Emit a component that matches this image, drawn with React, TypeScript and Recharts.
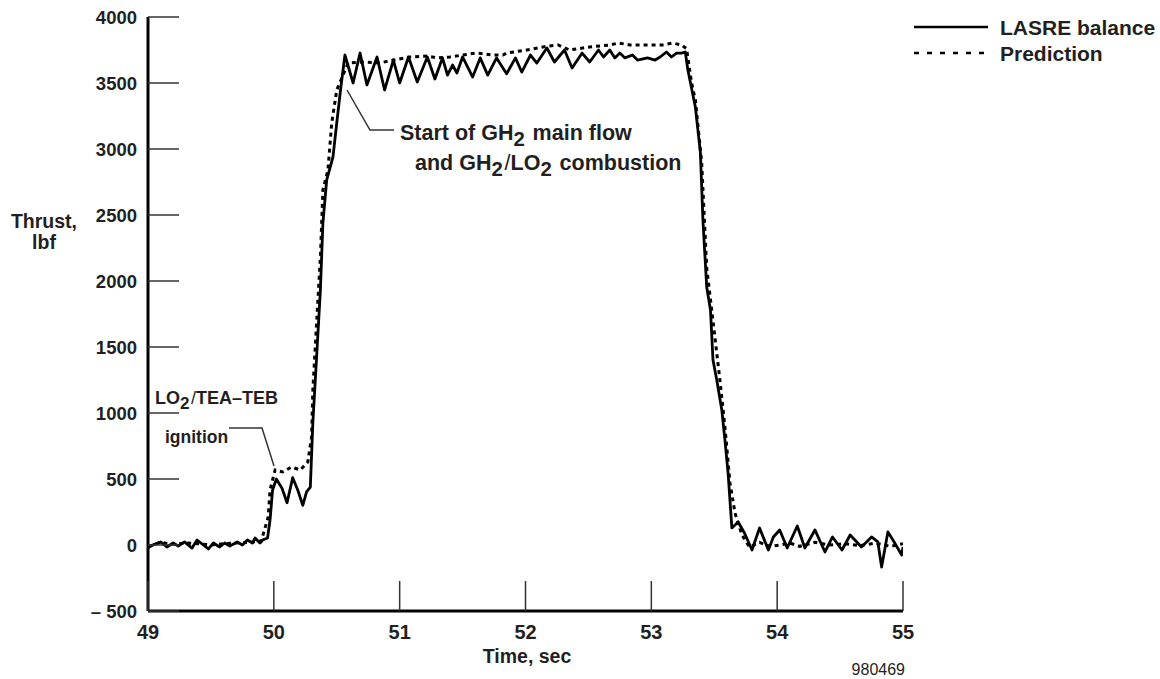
import React from 'react';
import { LineChart, Line, XAxis, YAxis } from 'recharts';

// LASRE balance (measured thrust), time in sec / thrust in lbf
const balanceTime = [
  49.0, 49.05, 49.1, 49.15, 49.2, 49.24, 49.29, 49.35, 49.39, 49.44, 49.48, 49.52, 49.57, 49.61,
  49.65, 49.71, 49.75, 49.79, 49.83, 49.85, 49.89, 49.91, 49.95, 49.97, 49.99, 50.02, 50.065,
  50.105, 50.15, 50.19, 50.23, 50.26, 50.29, 50.31, 50.34, 50.37, 50.39, 50.42, 50.47, 50.5,
  50.53, 50.565, 50.63, 50.685, 50.74, 50.82, 50.88, 50.95, 51.0, 51.07, 51.14, 51.22, 51.28,
  51.34, 51.38, 51.42, 51.455, 51.5, 51.58, 51.64, 51.7, 51.77, 51.85, 51.92, 51.97, 52.04,
  52.09, 52.17, 52.23, 52.31, 52.37, 52.45, 52.51, 52.58, 52.62, 52.67, 52.71, 52.75, 52.79,
  52.85, 52.89, 52.97, 53.03, 53.07, 53.12, 53.16, 53.2, 53.24, 53.27, 53.29, 53.35, 53.39,
  53.41, 53.44, 53.47, 53.49, 53.52, 53.56, 53.585, 53.61, 53.64, 53.69, 53.74, 53.8, 53.86,
  53.93, 53.97, 54.02, 54.08, 54.16, 54.22, 54.3, 54.38, 54.44, 54.515, 54.58, 54.67, 54.75,
  54.8, 54.83, 54.88, 54.92, 54.99, 55.0,
];
const balanceThrust = [
  -20, 5, 23, -15, 15, -8, 23, -23, 38, 0, -30, 15, -15, 15,
  -8, 23, 0, 38, 15, 53, 15, 38, 53, 189, 417, 500, 430,
  320, 510, 417, 300, 402, 439, 924, 1424, 1932, 2439, 2765, 2940, 3197,
  3447, 3712, 3500, 3727, 3485, 3697, 3447, 3674, 3500, 3697, 3508, 3697, 3530,
  3690, 3560, 3636, 3576, 3697, 3545, 3690, 3560, 3690, 3570, 3690, 3583, 3712,
  3651, 3765, 3659, 3750, 3614, 3727, 3659, 3750, 3697, 3750, 3690, 3727, 3690,
  3712, 3674, 3690, 3674, 3697, 3735, 3697, 3727, 3727, 3735, 3600, 3318, 2970,
  2462, 1955, 1780, 1401, 1250, 1023, 795, 545, 129, 174, 91, -38, 129,
  -38, 61, 114, -23, 144, -23, 114, -53, 61, -38, 76, -15, 61,
  23, -167, 99, 38, -76, -15,
];

// Prediction
const predictionTime = [
  49.0, 49.1, 49.2, 49.3, 49.4, 49.5, 49.6, 49.7, 49.8, 49.9, 49.955, 49.97, 50.01, 50.07,
  50.14, 50.21, 50.27, 50.3, 50.31, 50.34, 50.37, 50.39, 50.43, 50.46, 50.5, 50.59, 50.72,
  50.84, 50.95, 51.08, 51.22, 51.3, 51.4, 51.5, 51.61, 51.74, 51.82, 51.85, 52.01, 52.18,
  52.26, 52.35, 52.51, 52.67, 52.74, 52.83, 52.93, 53.01, 53.09, 53.17, 53.24, 53.28, 53.32,
  53.35, 53.4, 53.44, 53.48, 53.545, 53.585, 53.625, 53.665, 53.72, 53.78, 53.86, 53.94, 54.02,
  54.1, 54.18, 54.3, 54.42, 54.54, 54.66, 54.78, 54.9, 55.0,
];
const predictionThrust = [
  -10, 20, 5, 15, 10, 0, 10, 15, 20, 30, 212, 417, 568, 553,
  591, 568, 629, 818, 1174, 1682, 2182, 2689, 2841, 3197, 3447, 3651, 3659,
  3651, 3674, 3697, 3705, 3690, 3697, 3712, 3727, 3712, 3712, 3727, 3750, 3780,
  3788, 3750, 3773, 3788, 3803, 3788, 3788, 3788, 3788, 3803, 3788, 3760, 3500,
  3371, 2900, 2100, 1780, 1250, 894, 470, 242, 76, -15, 20, -10, 0,
  15, -10, 20, 0, 10, -5, 15, -10, 10,
];

const timeTicks = [49, 50, 51, 52, 53, 54, 55];
const thrustTicks = [-500, 0, 500, 1000, 1500, 2000, 2500, 3000, 3500, 4000];

const balance = balanceTime.map((t, i) => ({ t, v: balanceThrust[i] }));
const prediction = predictionTime.map((t, i) => ({ t, v: predictionThrust[i] }));

const font = '"Liberation Sans", Arial, Helvetica, sans-serif';
const ink = '#231f20';

const YTick = (props: any) => {
  const { x, y, payload } = props;
  const label = payload.value < 0 ? `\u2013 ${Math.abs(payload.value)}` : `${payload.value}`;
  return (
    <g>
      <line x1={x} x2={x + 31} y1={y} y2={y} stroke="#333" strokeWidth={1.5} />
      <text x={x - 11} y={y} textAnchor="end" dominantBaseline="central"
        fontFamily={font} fontWeight="bold" fontSize={18.5} fill={ink}>{label}</text>
    </g>
  );
};

const XTick = (props: any) => {
  const { x, y, payload } = props;
  return (
    <g>
      <line x1={x} x2={x} y1={y} y2={y - 30} stroke="#333" strokeWidth={1.5} />
      <text x={x} y={y + 21} textAnchor="middle" dominantBaseline="central"
        fontFamily={font} fontWeight="bold" fontSize={20} fill={ink}>{payload.value}</text>
    </g>
  );
};

const Sub = ({ children, size }: { children: React.ReactNode; size: number }) => (
  <>
    <tspan dy={size * 0.28} fontSize={size * 0.95}>{children}</tspan>
    <tspan dy={-size * 0.28}>{'\u200a'}</tspan>
  </>
);

export default function App() {
  return (
    <div style={{ position: 'absolute', left: 0, top: 0, width: 1160, height: 679, background: '#fff' }}>
      <LineChart width={1160} height={679} margin={{ top: 17, right: 257, bottom: 28, left: 0 }}>
        <XAxis type="number" dataKey="t" domain={[49, 55]} ticks={timeTicks} allowDataOverflow
          axisLine={{ stroke: '#000', strokeWidth: 3 }} tickLine={false} tickSize={0} tickMargin={0}
          height={40} tick={<XTick />} interval={0} />
        <YAxis type="number" dataKey="v" domain={[-500, 4000]} ticks={thrustTicks} allowDataOverflow
          axisLine={{ stroke: '#000', strokeWidth: 3 }} tickLine={false} tickSize={0} tickMargin={0}
          width={148} tick={<YTick />} interval={0} />
        <Line data={prediction} dataKey="v" type="linear" stroke="#000" strokeWidth={3}
          strokeDasharray="4 4" dot={false} isAnimationActive={false} />
        <Line data={balance} dataKey="v" type="linear" stroke="#000" strokeWidth={2.8}
          strokeLinejoin="round" dot={false} isAnimationActive={false} />
      </LineChart>
      <svg width={1160} height={679} style={{ position: 'absolute', left: 0, top: 0, pointerEvents: 'none' }}
        fontFamily={font} fontWeight="bold" fill={ink}>
        {/* axis titles */}
        <text x={44} y={221} textAnchor="middle" dominantBaseline="central" fontSize={19.5}>Thrust,</text>
        <text x={44} y={242} textAnchor="middle" dominantBaseline="central" fontSize={19.5}>lbf</text>
        <text x={527} y={656} textAnchor="middle" dominantBaseline="central" fontSize={19.5}>Time, sec</text>
        <text x={905} y={669} textAnchor="end" dominantBaseline="central" fontSize={16} fontWeight="normal">980469</text>

        {/* legend */}
        <line x1={914} x2={988} y1={27} y2={27} stroke="#000" strokeWidth={2.5} />
        <line x1={914} x2={988} y1={53} y2={53} stroke="#000" strokeWidth={2.5} strokeDasharray="5 8" />
        <text x={1000} y={27} dominantBaseline="central" fontSize={21}>LASRE balance</text>
        <text x={1000} y={53} dominantBaseline="central" fontSize={21}>Prediction</text>

        {/* main flow annotation */}
        <polyline points="347,90 370,130 394,130" fill="none" stroke="#333" strokeWidth={1.5} />
        <text x={400} y={140} fontSize={21.5}>
          Start of GH<Sub size={21.5}>2</Sub> main flow
        </text>
        <text x={415} y={170} fontSize={21.5}>
          and GH<Sub size={21.5}>2</Sub><tspan fontWeight="normal">/</tspan>LO<Sub size={21.5}>2</Sub> combustion
        </text>

        {/* ignition annotation */}
        <text x={155} y={404} fontSize={18}>
          LO<Sub size={18}>2</Sub><tspan fontWeight="normal">/</tspan>TEA{'\u2013'}TEB
        </text>
        <text x={165} y={443} fontSize={17.5}>ignition</text>
        <polyline points="229,428 262,428 274,466" fill="none" stroke="#333" strokeWidth={1.5} />
      </svg>
    </div>
  );
}
